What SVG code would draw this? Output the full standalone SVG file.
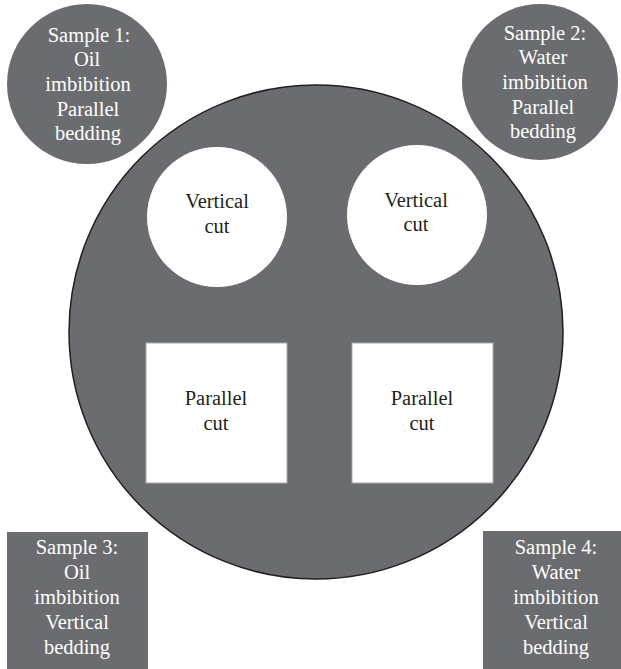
<svg xmlns="http://www.w3.org/2000/svg" width="621" height="669" viewBox="0 0 621 669">
<style>
.g{fill:#6b6c70}
.big{fill:#6b6c70;stroke:#231f20;stroke-width:1.5}
.w{fill:#ffffff}
.sq{fill:#ffffff;stroke:#a7a9ac;stroke-width:1}
text{font-family:'Liberation Serif','Times New Roman',serif;font-size:20.5px;text-anchor:middle}
.lt{fill:#ffffff}
.dk{fill:#231f20}
</style>
<rect width="621" height="669" fill="#ffffff"/>
<g id="main">
<circle class="big" cx="316" cy="332" r="247"/>
</g>
<g id="sample1">
<circle class="g" cx="87" cy="84" r="80"/>
<text class="lt"><tspan x="89" y="42">Sample 1:</tspan><tspan x="87" y="66">Oil</tspan><tspan x="88" y="91">imbibition</tspan><tspan x="88" y="116">Parallel</tspan><tspan x="88" y="140">bedding</tspan></text>
</g>
<g id="sample2">
<circle class="g" cx="540" cy="82" r="78"/>
<text class="lt"><tspan x="545" y="40">Sample 2:</tspan><tspan x="543" y="64">Water</tspan><tspan x="545" y="89">imbibition</tspan><tspan x="543" y="114">Parallel</tspan><tspan x="543" y="138">bedding</tspan></text>
</g>
<g id="sample3">
<rect class="g" x="7" y="532" width="141" height="137"/>
<text class="lt"><tspan x="77" y="554">Sample 3:</tspan><tspan x="77" y="579">Oil</tspan><tspan x="77" y="604">imbibition</tspan><tspan x="77" y="629">Vertical</tspan><tspan x="77" y="654">bedding</tspan></text>
</g>
<g id="sample4">
<rect class="g" x="483" y="531" width="138" height="138"/>
<text class="lt"><tspan x="556" y="554">Sample 4:</tspan><tspan x="556" y="579">Water</tspan><tspan x="556" y="604">imbibition</tspan><tspan x="556" y="629">Vertical</tspan><tspan x="556" y="654">bedding</tspan></text>
</g>
<g id="vcut1">
<circle class="w" cx="217" cy="217" r="70"/>
<text class="dk"><tspan x="217" y="208">Vertical</tspan><tspan x="217" y="233">cut</tspan></text>
</g>
<g id="vcut2">
<circle class="w" cx="417" cy="215" r="70"/>
<text class="dk"><tspan x="416" y="207">Vertical</tspan><tspan x="416" y="231">cut</tspan></text>
</g>
<g id="pcut1">
<rect class="sq" x="146" y="343" width="141" height="140"/>
<text class="dk"><tspan x="216" y="405">Parallel</tspan><tspan x="216" y="430">cut</tspan></text>
</g>
<g id="pcut2">
<rect class="sq" x="352" y="343" width="141" height="140"/>
<text class="dk"><tspan x="422" y="405">Parallel</tspan><tspan x="422" y="430">cut</tspan></text>
</g>
<g id="connectors"></g>
</svg>
